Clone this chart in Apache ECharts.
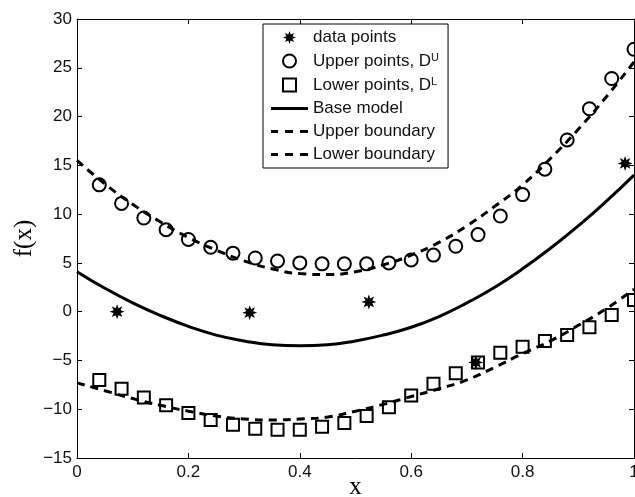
<!DOCTYPE html>
<html><head><meta charset="utf-8">
<script src="https://cdn.jsdelivr.net/npm/echarts@6/dist/echarts.min.js"></script>
<style>html,body{margin:0;padding:0;background:#fff}#c{width:635px;height:497px}</style>
</head><body><div id="c"></div>
<script>
// ---- data ----
const dataX = [0.072, 0.31, 0.524, 0.716, 0.984];
const dataY = [0.0, -0.1, 1.0, -5.2, 15.2];

const ptsX = [0.04, 0.08, 0.12, 0.16, 0.20, 0.24, 0.28, 0.32, 0.36, 0.40, 0.44, 0.48, 0.52,
              0.56, 0.60, 0.64, 0.68, 0.72, 0.76, 0.80, 0.84, 0.88, 0.92, 0.96, 1.00];
const upperPts = [13.0, 11.1, 9.6, 8.4, 7.4, 6.6, 6.0, 5.5, 5.2, 5.0, 4.9, 4.9, 4.9,
                  5.0, 5.3, 5.8, 6.7, 7.9, 9.8, 12.0, 14.6, 17.6, 20.8, 23.9, 26.9];
const lowerPts = [-7.0, -7.9, -8.8, -9.6, -10.4, -11.1, -11.6, -12.0, -12.1, -12.1, -11.8, -11.4, -10.7,
                  -9.8, -8.6, -7.4, -6.3, -5.2, -4.2, -3.6, -3.0, -2.4, -1.6, -0.35, 1.2];

const curveX = [0, 0.05, 0.10, 0.15, 0.20, 0.25, 0.30, 0.35, 0.40, 0.45, 0.50,
                0.55, 0.60, 0.65, 0.70, 0.75, 0.80, 0.85, 0.90, 0.95, 1.00];
const baseModel = [4.1, 2.4, 0.9, -0.4, -1.5, -2.4, -3.0, -3.4, -3.5, -3.4, -3.0,
                   -2.4, -1.6, -0.5, 0.9, 2.5, 4.4, 6.5, 8.8, 11.3, 14.0];
const upperBound = [15.5, 13.1, 11.0, 9.2, 7.6, 6.3, 5.2, 4.4, 3.9, 3.8, 4.1,
                    4.8, 5.8, 7.1, 8.8, 10.8, 13.0, 15.7, 18.7, 22.0, 25.6];
const lowerBound = [-7.3, -8.1, -8.9, -9.6, -10.2, -10.7, -11.0, -11.1, -11.0, -10.8, -10.2,
                    -9.5, -8.7, -7.9, -7.0, -5.7, -4.3, -3.0, -1.4, 0.3, 2.3];

const legendNames = ['data points', 'Upper points, D^U', 'Lower points, D^L',
                     'Base model', 'Upper boundary', 'Lower boundary'];

// ---- helpers ----
const zip = (xs, ys) => xs.map((x, i) => [x, ys[i]]);
function starPath(n, ri) {
  let d = '';
  for (let k = 0; k < 2 * n; k++) {
    const r = k % 2 === 0 ? 1 : ri;
    const a = Math.PI * k / n - Math.PI / 2;
    d += (k === 0 ? 'M' : 'L') + (r * Math.cos(a) * 100).toFixed(2) + ' ' + (r * Math.sin(a) * 100).toFixed(2) + ' ';
  }
  return 'path://' + d + 'Z';
}
const STAR = starPath(8, 0.5);
const SQUARE = 'path://M0 0H10V10H0Z';
const SOLID_ICON = 'path://M0 0H37V3H0Z';
const DASH_ICON = 'path://M0 0H7V3H0Z M14 0H22V3H14Z M29 0H37V3H29Z';
const SANS = "'Liberation Sans', Arial, Helvetica, sans-serif";
const SERIF = "'Liberation Serif', 'Times New Roman', serif";
const INK = '#000';

const chart = echarts.init(document.getElementById('c'), null, {renderer: 'canvas'});

const axisCommon = {
  axisLine: {show: true, onZero: false, lineStyle: {color: INK, width: 1}},
  axisTick: {show: true, inside: true, length: 5, lineStyle: {color: INK}},
  splitLine: {show: false}
};

chart.setOption({
  animation: false,
  backgroundColor: '#fff',
  grid: {left: 77, right: 1, top: 19, bottom: 39, containLabel: false, outerBoundsMode: 'none'},
  xAxis: [
    Object.assign({type: 'value', min: 0, max: 1, interval: 0.2, position: 'bottom',
      name: 'x', nameLocation: 'middle', nameGap: 17, nameMoveOverlap: false,
      nameTextStyle: {fontFamily: SERIF, fontSize: 25, color: INK},
      axisLabel: {fontFamily: SANS, fontSize: 17, color: '#111', margin: 6}}, axisCommon),
    Object.assign({type: 'value', min: 0, max: 1, interval: 0.2, position: 'top',
      axisLabel: {show: false}}, axisCommon)
  ],
  yAxis: [
    Object.assign({type: 'value', min: -15, max: 30, interval: 5, position: 'left',
      name: 'f(x)', nameLocation: 'middle', nameGap: 40, nameRotate: 90, nameMoveOverlap: false,
      nameTextStyle: {fontFamily: SERIF, fontSize: 25, color: INK},
      axisLabel: {fontFamily: SANS, fontSize: 17, color: '#111', margin: 5,
        formatter: v => String(v).replace('-', '\u2212')}}, axisCommon),
    Object.assign({type: 'value', min: -15, max: 30, interval: 5, position: 'right',
      axisLabel: {show: false}}, axisCommon)
  ],
  legend: {
    orient: 'vertical', left: 263, top: 24,
    data: [
      {name: legendNames[0], icon: STAR},
      {name: legendNames[1], icon: 'circle'},
      {name: legendNames[2], icon: SQUARE},
      {name: legendNames[3], icon: SOLID_ICON},
      {name: legendNames[4], icon: DASH_ICON},
      {name: legendNames[5], icon: DASH_ICON}
    ],
    symbolKeepAspect: true,
    itemWidth: 37, itemHeight: 13, itemGap: 6,
    padding: [5, 9, 5, 8],
    borderColor: INK, borderWidth: 1, backgroundColor: '#fff',
    formatter: name => {
      if (name.indexOf('^') < 0) return '{t|' + name + '}';
      const p = name.split('^');
      return '{t|' + p[0] + '}{s|' + p[1] + '}';
    },
    textStyle: {
      fontFamily: SANS, fontSize: 17, color: '#111',
      rich: {
        t: {fontFamily: SANS, fontSize: 17, lineHeight: 18, color: '#111'},
        s: {fontFamily: SANS, fontSize: 11, lineHeight: 11, color: '#111', padding: [0, 0, 7, 0]}
      }
    }
  },
  series: [
    {name: legendNames[0], type: 'scatter', data: zip(dataX, dataY),
      symbol: STAR, symbolSize: 15, itemStyle: {color: INK, opacity: 1}},
    {name: legendNames[1], type: 'scatter', data: zip(ptsX, upperPts),
      symbol: 'circle', symbolSize: 13,
      itemStyle: {color: 'rgba(0,0,0,0)', borderColor: INK, borderWidth: 2, opacity: 1}},
    {name: legendNames[2], type: 'scatter', data: zip(ptsX, lowerPts),
      symbol: 'rect', symbolSize: 12,
      itemStyle: {color: 'rgba(0,0,0,0)', borderColor: INK, borderWidth: 2, opacity: 1}},
    {name: legendNames[3], type: 'line', data: zip(curveX, baseModel), smooth: true,
      symbol: 'none', lineStyle: {color: INK, width: 3}, itemStyle: {color: INK}},
    {name: legendNames[4], type: 'line', data: zip(curveX, upperBound), smooth: true,
      symbol: 'none', lineStyle: {color: INK, width: 3, type: [8, 6]}, itemStyle: {color: INK}},
    {name: legendNames[5], type: 'line', data: zip(curveX, lowerBound), smooth: true,
      symbol: 'none', lineStyle: {color: INK, width: 3, type: [8, 6]}, itemStyle: {color: INK}}
  ]
});
</script>
</body></html>
